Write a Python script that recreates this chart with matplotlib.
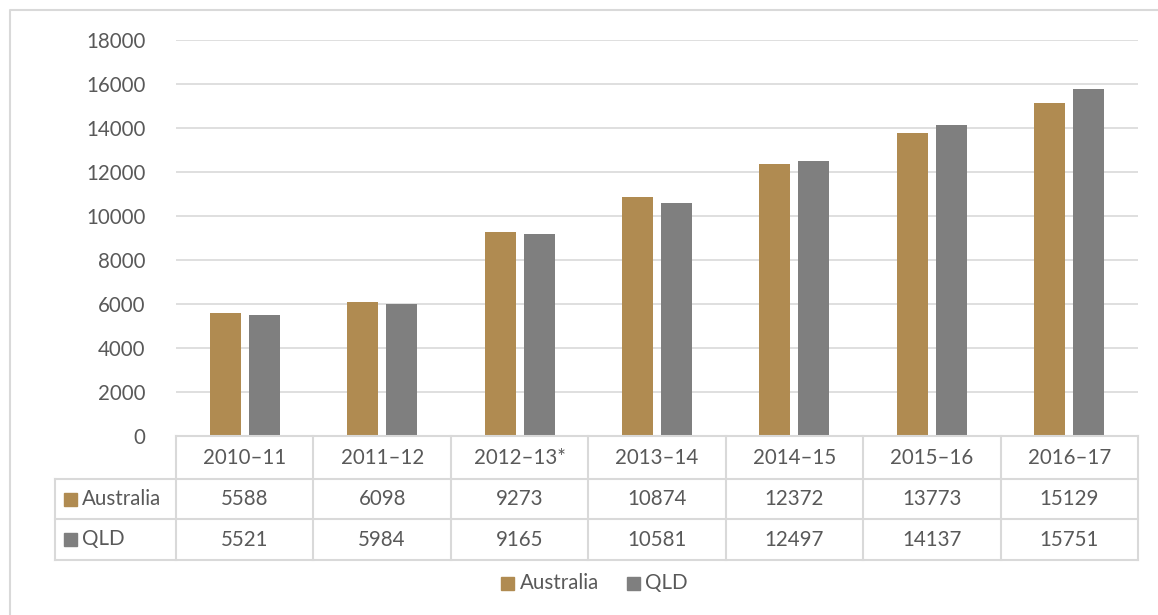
import numpy as np
import matplotlib
matplotlib.use("Agg")
import matplotlib.pyplot as plt
from matplotlib.patches import Rectangle
from matplotlib.lines import Line2D

categories = ["2010–11", "2011–12", "2012–13*", "2013–14", "2014–15", "2015–16", "2016–17"]
australia = [5588, 6098, 9273, 10874, 12372, 13773, 15129]
qld = [5521, 5984, 9165, 10581, 12497, 14137, 15751]
series_names = ["Australia", "QLD"]
colors = ["#B08B51", "#7F7F7F"]
yticks = [0, 2000, 4000, 6000, 8000, 10000, 12000, 14000, 16000, 18000]

W, H = 1158, 615
plt.rcParams["font.family"] = ["Lato", "DejaVu Sans"]
text_col = "#595959"
grid_col = "#D9D9D9"
fs = 14.8

fig = plt.figure(figsize=(W / 100, H / 100), dpi=100)

def fx(px):
    return px / W

def fy(py):
    return 1 - py / H

# plot area in pixels
x0, x1, ytop, ybot = 176, 1138, 40, 436
ax = fig.add_axes([fx(x0), fy(ybot), fx(x1) - fx(x0), fy(ytop) - fy(ybot)])

n = len(categories)
x = np.arange(n)
bw = 0.226
off = 0.142
ax.bar(x - off, australia, bw, color=colors[0], zorder=3)
ax.bar(x + off, qld, bw, color=colors[1], zorder=3)
ax.set_xlim(-0.5, n - 0.5)
ax.set_ylim(0, 18000)
ax.set_yticks(yticks)
ax.set_yticklabels([str(t) for t in yticks])
ax.tick_params(axis="y", length=0, pad=22, labelsize=fs, labelcolor=text_col)
ax.set_xticks([])
for t in yticks[1:]:
    ax.axhline(t, color=grid_col, lw=1.2, zorder=1)
for s in ax.spines.values():
    s.set_visible(False)
ax.patch.set_alpha(0)

# outer chart border (right and bottom edges fall outside the image)
fig.add_artist(Line2D([fx(10), fx(10), 1.0], [0.0, fy(10), fy(10)],
                      transform=fig.transFigure, color=grid_col, lw=1.5))

# data table
rows = [ybot, 479, 519, 560]
tab_left = 55
colw = (x1 - x0) / n

def hline(py, xa, xb):
    fig.add_artist(Line2D([fx(xa), fx(xb)], [fy(py), fy(py)], transform=fig.transFigure,
                          color=grid_col, lw=1.5))

def vline(px, ya, yb):
    fig.add_artist(Line2D([fx(px), fx(px)], [fy(ya), fy(yb)], transform=fig.transFigure,
                          color=grid_col, lw=1.5))

hline(rows[0], x0, x1)
for r in rows[1:]:
    hline(r, tab_left, x1)
for i in range(n + 1):
    vline(x0 + i * colw, rows[0], rows[3])
vline(tab_left, rows[1], rows[3])

for i, c in enumerate(categories):
    cx = x0 + (i + 0.5) * colw
    fig.text(fx(cx), fy((rows[0] + rows[1]) / 2), c, ha="center", va="center",
             fontsize=fs, color=text_col)
    for j, vals in enumerate([australia, qld]):
        fig.text(fx(cx), fy((rows[j + 1] + rows[j + 2]) / 2), str(vals[i]),
                 ha="center", va="center", fontsize=fs, color=text_col)

for j, name in enumerate(series_names):
    cy = (rows[j + 1] + rows[j + 2]) / 2
    fig.add_artist(Rectangle((fx(64), fy(cy + 6.5)), fx(13), fy(0) - fy(13),
                             transform=fig.transFigure, color=colors[j]))
    fig.text(fx(82), fy(cy), name, ha="left", va="center", fontsize=fs, color=text_col)

# legend
leg_y = 583
fig.add_artist(Rectangle((fx(501), fy(leg_y + 6.5)), fx(13), fy(0) - fy(13),
                         transform=fig.transFigure, color=colors[0]))
fig.text(fx(520), fy(leg_y), series_names[0], ha="left", va="center", fontsize=fs, color=text_col)
fig.add_artist(Rectangle((fx(627), fy(leg_y + 6.5)), fx(13), fy(0) - fy(13),
                         transform=fig.transFigure, color=colors[1]))
fig.text(fx(645), fy(leg_y), series_names[1], ha="left", va="center", fontsize=fs, color=text_col)

fig.savefig("out.png", dpi=100)
